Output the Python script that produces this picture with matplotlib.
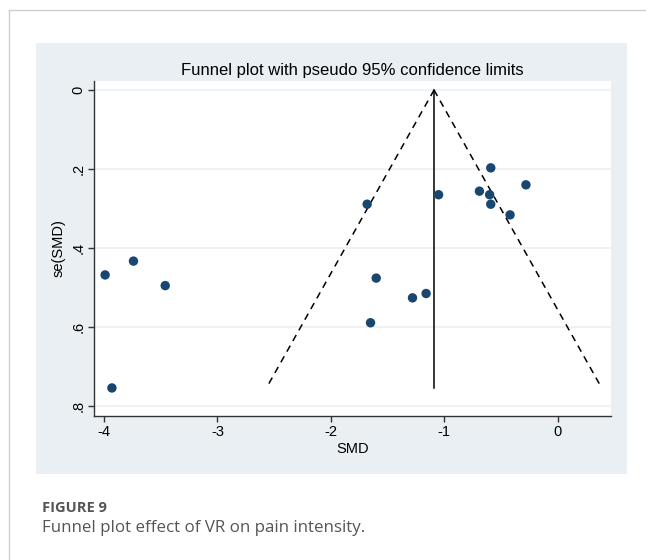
import matplotlib
matplotlib.use("Agg")
import matplotlib.pyplot as plt
from matplotlib.patches import Rectangle
from matplotlib.lines import Line2D
import numpy as np

# Data
smd = [-3.99, -3.74, -3.46, -3.93,
       -0.59, -0.28, -1.05, -0.69, -0.60, -0.59, -0.42,
       -1.68, -1.60, -1.28, -1.16, -1.65]
se = [0.468, 0.433, 0.495, 0.754,
      0.197, 0.240, 0.265, 0.256, 0.265, 0.289, 0.316,
      0.289, 0.476, 0.526, 0.515, 0.589]
pooled = -1.09
x_ticks = [-4, -3, -2, -1, 0]
x_tick_labels = ["-4", "-3", "-2", "-1", "0"]
y_ticks = [0, 0.2, 0.4, 0.6, 0.8]
y_tick_labels = ["0", ".2", ".4", ".6", ".8"]
title = "Funnel plot with pseudo 95% confidence limits"
caption_head = "FIGURE 9"
caption_text = "Funnel plot effect of VR on pain intensity."

W, H = 646, 560
fig = plt.figure(figsize=(W / 100, H / 100), dpi=100)
fig.patch.set_facecolor("white")

def fx(px):
    return px / W

def fy(py):
    return 1 - py / H

# card border lines
fig.add_artist(Line2D([fx(9), 1], [fy(10), fy(10)], color="#cfcfcf", lw=1))
fig.add_artist(Line2D([fx(9), fx(9)], [fy(10), 0], color="#cfcfcf", lw=1))

# gray graph region
fig.add_artist(Rectangle((fx(36), fy(474)), fx(627) - fx(36), fy(43) - fy(474),
                         transform=fig.transFigure, facecolor="#e9eff2",
                         edgecolor="none", zorder=0))

ax = fig.add_axes([fx(94), fy(416), fx(611) - fx(94), fy(81) - fy(416)])
ax.set_facecolor("white")
ax.set_zorder(1)

ax.set_xlim(-4.088, 0.470)
ax.set_ylim(0.825, -0.0228)

for yv in y_ticks:
    ax.axhline(yv, color="#eaf1f4", lw=1.2, zorder=0)

se_max = max(se)
ax.plot([pooled, pooled], [0, se_max], color="black", lw=1.1, zorder=2)
ax.plot([pooled, pooled - 1.96 * se_max], [0, se_max], color="black", lw=1.1,
        dashes=(4.5, 3.5), zorder=2)
ax.plot([pooled, pooled + 1.96 * se_max], [0, se_max], color="black", lw=1.1,
        dashes=(4.5, 3.5), zorder=2)

ax.scatter(smd, se, s=46, color="#1a476f", edgecolors="none", zorder=3)

for s in ["top", "right"]:
    ax.spines[s].set_visible(False)
for s in ["left", "bottom"]:
    ax.spines[s].set_color("#333333")
    ax.spines[s].set_linewidth(1.0)

ax.set_xticks(x_ticks)
ax.set_xticklabels(x_tick_labels)
ax.set_yticks(y_ticks)
ax.set_yticklabels(y_tick_labels, rotation=90, va="center")
ax.tick_params(axis="both", length=4.3, width=1.0, color="#333333",
               labelsize=10.5, labelcolor="black", pad=2,
               labelfontfamily="Liberation Sans")

ax.set_xlabel("SMD", fontsize=10.5, family="Liberation Sans", labelpad=2)
ax.set_ylabel("se(SMD)", fontsize=10.5, family="Liberation Sans", labelpad=4)

fig.text(fx(352), fy(70), title, ha="center", va="center", fontsize=12,
         family="Liberation Sans", color="black")

fig.text(fx(42), fy(512), caption_head, ha="left", va="baseline", fontsize=10.5,
         family="Open Sans", fontweight="bold", color="#555555")
fig.text(fx(42), fy(532), caption_text, ha="left", va="baseline", fontsize=12.2,
         family="Open Sans", color="#555555")

fig.savefig("out.png", dpi=100, facecolor="white")
